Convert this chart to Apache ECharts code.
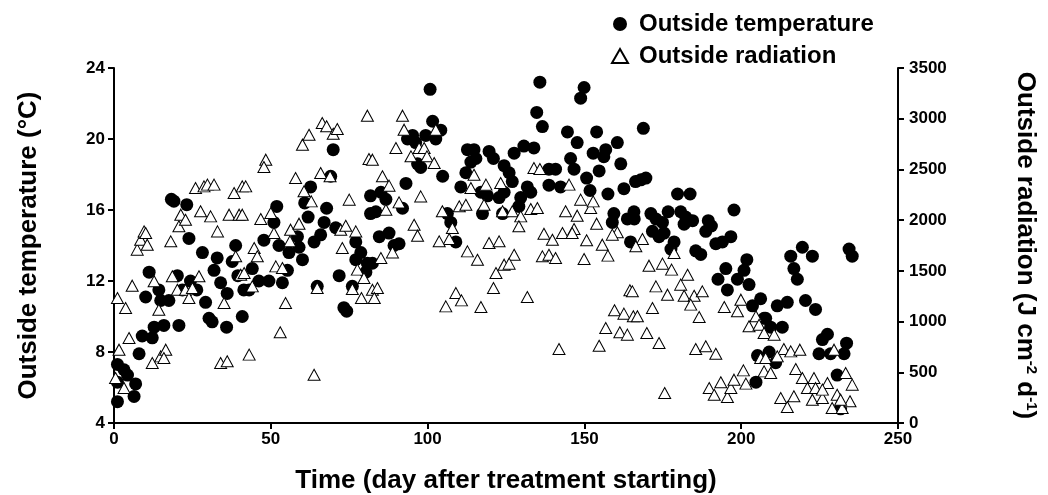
<!DOCTYPE html>
<html><head><meta charset="UTF-8">
<title>outside climate</title>
<style>html,body{margin:0;padding:0;background:#fff}#chart{width:1048px;height:495px}</style>
<script src="https://cdn.jsdelivr.net/npm/echarts@6/dist/echarts.min.js"></script>
</head>
<body>
<div id="chart"></div>
<script>
// outside temperature, [day, °C]
const tempData = [
  [1.1,5.2],[1.1,7.3],[3.2,7.0],[4.3,6.7],[1.1,6.3],[6.9,6.2],[6.4,5.5],[8.0,7.9],[9.0,8.9],[12.2,8.8],
  [12.8,9.4],[15.9,9.5],[20.7,9.5],[10.1,11.1],[11.2,12.5],[14.3,11.5],[14.9,10.9],[17.5,10.9],[20.2,12.3],[21.8,11.5],
  [24.4,12.0],[26.4,11.5],[29.2,10.8],[30.3,9.9],[31.3,9.7],[35.9,9.4],[28.2,13.6],[23.9,14.4],[23.2,16.3],[18.3,16.6],
  [19.1,16.5],[32.9,13.3],[31.9,12.6],[34.0,11.9],[36.1,11.3],[38.8,14.0],[37.7,13.1],[39.5,12.3],[40.9,10.0],[41.4,11.5],
  [44.1,12.7],[43.1,11.5],[46.2,12.0],[49.4,12.0],[53.7,11.9],[47.8,14.3],[51.0,15.3],[51.9,16.2],[52.6,14.0],[55.8,13.6],
  [55.3,12.6],[58.5,14.5],[59.0,13.9],[60.1,13.2],[60.8,16.4],[62.7,17.3],[61.9,15.6],[63.8,14.2],[65.9,14.6],[67.0,15.3],
  [67.8,16.1],[69.1,17.9],[69.9,19.4],[64.8,11.7],[70.7,15.0],[71.8,12.3],[73.3,10.5],[74.2,10.3],[76.0,11.7],[77.1,14.2],
  [77.1,13.2],[78.7,13.6],[80.8,13.0],[80.3,12.5],[81.8,16.8],[81.8,15.8],
  [83.5,15.9],[85.1,17.0],[86.7,16.6],[84.6,14.5],[87.7,14.7],[90.9,14.1],[89.3,14.0],[92.0,16.1],[93.1,17.5],[82.4,13.0],
  [93.6,20.0],[95.2,20.2],[96.2,19.8],[96.8,18.6],[97.8,18.4],[99.4,20.2],[101.6,21.0],[102.6,20.0],[104.2,20.5],[100.8,22.8],
  [104.8,17.9],[106.3,15.8],[107.4,15.3],[109.0,14.2],[112.7,19.4],[114.8,19.4],[115.4,18.9],[113.8,18.7],[112.2,18.1],[110.6,17.3],
  [119.6,19.3],[121.0,18.9],[124.4,18.5],[117.0,17.0],[117.5,15.8],[119.1,16.8],[122.8,16.7],[123.9,15.8],
  [126.0,18.1],[127.0,17.6],[124.4,17.0],[127.6,19.2],[130.7,19.6],[133.9,19.5],[131.8,17.3],[132.9,17.0],[129.7,16.7],[129.1,16.2],
  [135.8,23.2],[134.8,21.5],[136.6,20.7],[138.7,18.3],[140.8,18.3],[138.7,17.4],[142.4,17.3],[144.6,20.4],[147.7,19.8],[145.6,18.9],
  [146.7,18.3],[149.9,22.9],[148.8,22.3],[150.7,17.8],[151.8,17.1],[152.8,19.2],[153.9,20.4],[154.7,18.2],[156.2,19.0],[156.8,19.4],
  [157.5,16.9],[160.5,19.8],[161.6,18.6],[162.6,17.2],[159.4,15.8],[158.9,15.3],[163.7,15.5],[164.7,14.2],[165.8,15.9],[166.3,17.6],
  [168.8,20.6],[168.0,17.7],[169.6,17.8],[165.9,15.5],[171.2,15.8],[172.8,15.5],[174.9,15.3],[171.7,14.8],[173.8,14.5],[175.4,14.7],
  [176.7,15.9],[179.7,16.9],[183.7,16.9],[180.7,15.9],[182.3,15.6],[181.8,15.2],[184.5,15.4],[178.6,14.2],[177.6,13.8],[185.5,13.7],
  [187.1,13.5],[189.5,15.4],[190.5,15.1],[188.7,14.8],[191.9,14.1],[194.0,14.2],[196.7,14.5],[197.7,16.0],[195.1,12.7],[192.6,12.1],
  [195.6,11.5],[198.8,12.1],[200.9,12.6],[201.8,13.2],[202.5,11.8],[203.6,10.6],[206.2,11.0],[207.3,9.9],[205.2,7.8],[204.7,6.3],
  [207.8,9.9],[209.4,9.4],[211.5,10.6],[214.7,10.8],[213.1,9.4],[208.9,8.0],[211.0,7.4],[215.8,13.4],[219.5,13.9],[222.7,13.4],
  [216.8,12.7],[217.9,12.1],[220.5,10.9],[223.7,10.4],[225.9,8.7],[227.5,9.0],[224.8,7.9],[228.5,7.9],[232.8,7.9],[233.6,8.5],
  [230.6,6.7],[231.7,4.8],[234.4,13.8],[235.4,13.4]
];

// outside radiation, [day, J cm-2 d-1]
const radData = [
  [1.1,1232],[3.7,1134],[5.8,1354],[1.6,723],[4.8,838],[0.5,444],[3.2,345],[7.4,1709],[8.5,1807],[9.6,1889],
  [10.6,1758],[10.1,1873],[12.8,1397],[14.3,1117],[12.2,591],[14.9,657],[16.5,723],[15.9,641],[18.1,1791],[18.6,1446],
  [20.7,1939],[21.3,2054],[22.8,2004],[20.2,1314],[22.8,1314],[23.9,1232],[25.0,1331],[26.0,2317],[27.6,2087],[28.7,2333],
  [29.8,2350],[30.8,2037],[31.9,2350],[27.1,1446],[33.0,1889],[35.1,1183],[34.0,591],[36.1,608],[36.7,2054],[38.3,2267],
  [39.9,2054],[38.8,1643],[40.9,2333],[40.4,1462],
  [42.0,2333],[40.9,2054],[46.8,2011],[50.0,2070],[44.7,1725],[45.7,1643],[41.5,1479],[44.1,1347],[43.1,674],[48.4,2596],
  [47.8,2524],[51.0,1873],[51.6,1544],[53.7,1528],[54.7,1183],[53.0,894],[56.3,1906],[56.1,1791],[59.0,1965],[57.9,2415],
  [60.1,2744],[62.2,2842],[60.6,2284],[62.9,2185],[65.9,2464],[66.4,2957],[67.8,2925],[69.9,2852],[71.2,2898],[68.9,2432],
  [64.8,1331],[63.8,476],[72.3,1906],[73.9,1945],[77.1,1889],[72.8,1725],[75.0,2202],[80.8,3030],[81.3,2603],[77.6,1512],
  [79.7,1429],[76.0,1321],[78.9,1232],[82.4,1314],
  [92.0,3030],[92.5,2892],[89.9,2711],[94.7,2629],[97.3,2711],[98.9,2711],[99.8,2629],[102.1,2563],[102.6,2892],[82.4,2596],
  [85.6,2432],[87.7,2340],[90.9,2175],[86.7,2103],[97.8,2234],[95.7,1955],[96.8,1847],[85.1,1627],[88.8,1682],[84.0,1331],
  [83.0,1232],[104.7,2087],[107.9,1922],[106.9,1814],[103.7,1791],[110.1,2136],[112.2,2152],[109.0,1282],[105.8,1150],[110.8,1209],
  [117.0,1144],[112.7,1692],[115.9,1610],[114.8,2448],[113.8,2317],[118.6,2350],[118.0,2152],[123.3,2366],[123.9,2087],[119.6,1774],
  [122.8,1791],[121.8,1479],[121.0,1331],[124.4,1561],
  [127.6,1659],[126.0,1571],[127.0,2087],[129.7,2037],[129.1,1939],[133.9,2514],[135.8,2504],[132.9,2110],[135.0,2119],[131.8,1242],
  [137.1,1866],[139.8,1807],[136.6,1643],[138.7,1659],[140.8,1627],[141.9,729],[143.0,1873],[145.1,2350],[144.0,2087],[146.7,1912],
  [147.7,2044],[146.1,1873],[148.8,2202],[152.0,2119],[152.8,2185],[149.9,1617],[150.7,1801],[153.9,1965],[155.7,1758],[157.5,1650],
  [160.5,1880],[158.9,1857],[164.5,1308],[159.6,1111],[162.6,1078],[165.6,1052],[156.8,937],[161.3,894],[163.7,871],[154.7,762],
  [168.5,1814],[166.4,1742],[178.6,1676],[170.6,1551],[174.9,1571],[177.8,1512],[182.9,1462],[172.8,1347],[180.7,1364],[176.5,1265],
  [181.8,1255],[185.0,1255],[187.6,1298],[183.9,1167],[165.3,1298],[171.7,1134],[186.6,1045],[166.9,1052],[169.9,887],[173.8,789],
  [185.5,729],[188.7,756],[191.9,683],[175.6,296],[194.6,1144],[198.8,1101],[199.9,1216],[202.5,953],[204.7,1052],[205.7,969],
  [189.8,345],[191.4,279],[193.5,401],[195.6,256],[196.7,345],[197.7,427],[200.7,519],[201.5,388],[206.2,641],[207.3,509],
  [207.3,887],[210.5,871],[213.6,729],[215.8,706],[218.7,723],[207.8,641],[211.5,657],[209.4,493],[217.4,532],[219.5,444],
  [221.1,345],[223.2,444],[223.7,345],[212.6,246],[214.7,158],[216.8,263],[222.7,230],[225.9,246],[227.5,394],[225.9,329],
  [229.0,148],[230.6,279],[232.2,148],[233.3,493],[235.4,378],[234.7,214],[229.6,723],[231.7,230]
];

const xTicks = [0, 250, 50];
const tempTicks = [4, 24, 4];
const radTicks = [0, 3500, 500];

const chart = echarts.init(document.getElementById('chart'));
const font = 'Liberation Sans, Arial, sans-serif';
const axisLine = { show: true, lineStyle: { color: '#000', width: 2 } };
const axisTick = { show: true, length: 6, lineStyle: { color: '#000', width: 2 } };
const tickLabel = { color: '#000', fontFamily: font, fontWeight: 'bold', fontSize: 17 };
const nameStyle = { color: '#000', fontFamily: font, fontWeight: 'bold', fontSize: 26 };

chart.setOption({
  animation: false,
  grid: { left: 114, right: 150, top: 68, bottom: 72, outerBoundsMode: 'none' },
  legend: {
    orient: 'vertical', left: 606, top: 7, itemGap: 8, itemWidth: 16, itemHeight: 14,
    textStyle: { color: '#000', fontFamily: font, fontWeight: 'bold', fontSize: 24, padding: [0, 0, 0, 6] },
    data: ['Outside temperature', 'Outside radiation']
  },
  xAxis: {
    type: 'value', min: xTicks[0], max: xTicks[1], interval: xTicks[2],
    name: 'Time (day after treatment starting)', nameLocation: 'middle', nameGap: 45,
    nameTextStyle: nameStyle,
    axisLine: axisLine, axisTick: axisTick, splitLine: { show: false },
    axisLabel: Object.assign({ margin: 8 }, tickLabel)
  },
  yAxis: [{
    type: 'value', min: tempTicks[0], max: tempTicks[1], interval: tempTicks[2],
    name: 'Outside temperature (°C)', nameLocation: 'middle', nameGap: 72, nameRotate: 90,
    nameTextStyle: nameStyle,
    axisLine: axisLine, axisTick: axisTick, splitLine: { show: false },
    axisLabel: Object.assign({ margin: 9 }, tickLabel)
  }, {
    type: 'value', position: 'right', min: radTicks[0], max: radTicks[1], interval: radTicks[2],
    name: 'Outside radiation (J cm{sup|-2} d{sup|-1})', nameLocation: 'middle', nameGap: 114, nameRotate: -90,
    nameTextStyle: Object.assign({
      rich: { sup: { color: '#000', fontFamily: font, fontWeight: 'bold', fontSize: 15, verticalAlign: 'top', padding: [0, 0, 12, 0] } }
    }, nameStyle),
    axisLine: axisLine, axisTick: axisTick, splitLine: { show: false },
    axisLabel: Object.assign({ margin: 11, formatter: v => String(v) }, tickLabel)
  }],
  series: [{
    name: 'Outside temperature', type: 'scatter', yAxisIndex: 0,
    symbol: 'circle', symbolSize: 13,
    itemStyle: { color: '#000', opacity: 1 },
    data: tempData
  }, {
    name: 'Outside radiation', type: 'scatter', yAxisIndex: 1,
    symbol: 'triangle', symbolSize: [12, 11],
    itemStyle: { color: '#fff', borderColor: '#000', borderWidth: 1, opacity: 1 },
    data: radData
  }]
});
</script>
</body></html>
